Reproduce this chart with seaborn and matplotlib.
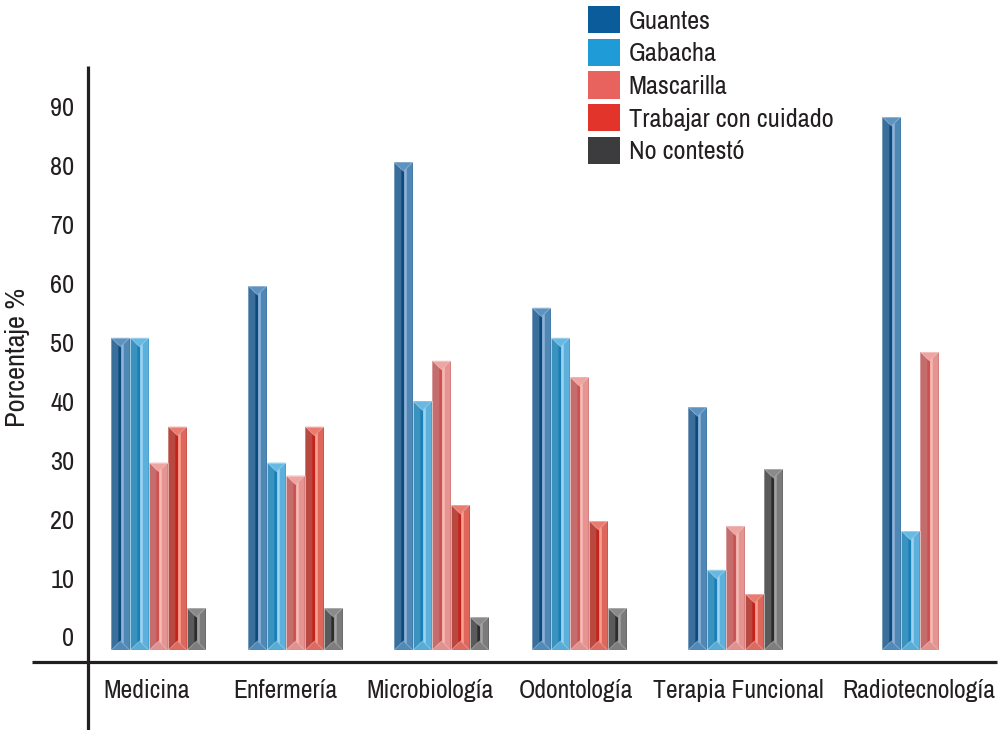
import numpy as np
import pandas as pd
import matplotlib
matplotlib.use("Agg")
import matplotlib.pyplot as plt
import seaborn as sns
from matplotlib.patches import Polygon, Patch

# ---- data -------------------------------------------------------------
carreras = ["Medicina", "Enfermería", "Microbiología", "Odontología",
            "Terapia Funcional", "Radiotecnología"]
medidas = ["Guantes", "Gabacha", "Mascarilla", "Trabajar con cuidado", "No contestó"]

guantes = [50.8, 59.6, 80.6, 55.9, 39.0, 88.3]
gabacha = [50.8, 29.6, 40.0, 50.8, 11.4, 18.0]
mascarilla = [29.6, 27.4, 46.9, 44.1, 18.8, 48.4]
trabajar = [35.7, 35.7, 22.4, 19.7, 7.3, np.nan]
no_contesto = [4.9, 4.9, 3.4, 4.9, 28.5, np.nan]

y_ticks = [0, 10, 20, 30, 40, 50, 60, 70, 80, 90]

# ---- layout / style ---------------------------------------------------
group_x = [158.5, 295.5, 441.5, 579.5, 735.5, 929.5]   # group centres on the x scale
label_x = [147, 285, 430, 576, 738, 919]               # category label centres
group_span = 95.0                                       # width taken by one group
plinth = -2.2                                           # bars stand slightly below zero

legend_colors = ["#0b5c9a", "#1f9cd8", "#e8625e", "#e2342b", "#3c3c3e"]
# per series: left bevel, right bevel, top, bottom, dark ridge, light ridge
shades = {
    "Guantes":              ["#3a6f9c", "#5088b5", "#5d93c0", "#4f8ab8", "#0c4a7e", "#8fb2d8"],
    "Gabacha":              ["#3a92bf", "#5cb1dc", "#66b9e2", "#58acd6", "#1a7fb7", "#9dd3f0"],
    "Mascarilla":           ["#c46d6c", "#e59491", "#eea4a0", "#e09290", "#cc5150", "#f6bab5"],
    "Trabajar con cuidado": ["#b84840", "#df665b", "#ea7b70", "#dc6c62", "#c6221a", "#f7a293"],
    "No contestó":          ["#5a5a5a", "#7b7b7b", "#8a8a8a", "#7e7e7e", "#2c2c2c", "#a2a2a2"],
}
line_color = "#231f20"

W, H, DPI = 1007, 730, 100
ax_left, ax_right, ax_top, ax_bottom = 87.5, 997.0, 66.0, 661.5   # pixels
y_zero_px, px_per_unit = 637.0, 5.889

sns.set_theme(style="white")
plt.rcParams["font.family"] = ["Nimbus Sans Narrow", "Liberation Sans Narrow",
                               "Arial Narrow", "Archivo Narrow", "Roboto Condensed",
                               "PT Sans Narrow", "Liberation Sans", "DejaVu Sans"]
plt.rcParams["text.color"] = line_color

fig = plt.figure(figsize=(W / DPI, H / DPI), dpi=DPI)
ax = fig.add_axes([ax_left / W, 1 - ax_bottom / H,
                   (ax_right - ax_left) / W, (ax_bottom - ax_top) / H])

# ---- long table ---------------------------------------------------------
series = [guantes, gabacha, mascarilla, trabajar, no_contesto]
rows = []
for m, vals in zip(medidas, series):
    for c, gx, v in zip(carreras, group_x, vals):
        if not np.isnan(v):
            rows.append({"carrera": c, "pos": gx, "medida": m, "valor": v})
df = pd.DataFrame(rows)

palette = {m: shades[m][0] for m in medidas}
min_step = np.min(np.diff(group_x))
sns.barplot(data=df, x="pos", y="valor", hue="medida", hue_order=medidas,
            palette=palette, native_scale=True, width=group_span / min_step,
            gap=0.05, errorbar=None, saturation=1, linewidth=0,
            legend=False, ax=ax)

ax.set_xlim(ax_left, ax_right)
ax.set_ylim((y_zero_px - ax_bottom) / px_per_unit, (y_zero_px - ax_top) / px_per_unit)

# ---- bevelled bars --------------------------------------------------------
fig.canvas.draw()
t0 = ax.transData.transform((0, 0))
sx = ax.transData.transform((1, 0))[0] - t0[0]
sy = ax.transData.transform((0, 1))[1] - t0[1]

color_to_series = {matplotlib.colors.to_hex(palette[m]): m for m in medidas}

for p in list(ax.patches):
    h = p.get_height()
    if not np.isfinite(h) or h == 0:
        continue
    m = color_to_series.get(matplotlib.colors.to_hex(p.get_facecolor()))
    if m is None:
        continue
    left, right_c, top_c, bot_c, dark, light = shades[m]
    x0 = p.get_x()
    w = p.get_width()
    x1 = x0 + w
    y1 = p.get_y() + h
    y0 = plinth
    p.set_y(y0)
    p.set_height(y1 - y0)
    xc = x0 + 0.5 * w
    bx = 0.5 * w
    by = bx * sx / sy
    z = p.get_zorder()
    polys = [
        ([(x0, y0), (xc, y0 + by), (xc, y1 - by), (x0, y1)], left),
        ([(x1, y0), (xc, y0 + by), (xc, y1 - by), (x1, y1)], right_c),
        ([(x0, y1), (x1, y1), (xc, y1 - by)], top_c),
        ([(x0, y0), (x1, y0), (xc, y0 + by)], bot_c),
        ([(x0 + 0.38 * w, y0 + by * 0.8), (xc + 0.04 * w, y0 + by),
          (xc + 0.04 * w, y1 - by), (x0 + 0.38 * w, y1 - by * 0.8)], dark),
        ([(xc + 0.04 * w, y0 + by), (x0 + 0.68 * w, y0 + by * 0.7),
          (x0 + 0.68 * w, y1 - by * 0.7), (xc + 0.04 * w, y1 - by)], light),
    ]
    for pts, col in polys:
        ax.add_patch(Polygon(pts, closed=True, facecolor=col, edgecolor="none",
                             zorder=z + 0.1))
    # light rim and bevel seams
    ax.plot([x0, xc, x1], [y1, y1 - by, y1], color="white", alpha=0.35, lw=0.6,
            zorder=z + 0.2)
    ax.plot([x0, xc, x1], [y0, y0 + by, y0], color="white", alpha=0.35, lw=0.6,
            zorder=z + 0.2)
    ax.add_patch(plt.Rectangle((x0, y0), w, y1 - y0, fill=False,
                               edgecolor="white", alpha=0.45, lw=0.5,
                               zorder=z + 0.3))

# ---- axes lines -----------------------------------------------------------
for s in ax.spines.values():
    s.set_visible(False)
ax.plot([(32 - ax_left) / (ax_right - ax_left), 1.0], [0, 0], transform=ax.transAxes,
        color=line_color, lw=2.3, clip_on=False, solid_capstyle="butt")
ax.plot([0, 0], [(ax_bottom - H) / (ax_bottom - ax_top), 1.0], transform=ax.transAxes,
        color=line_color, lw=2.3, clip_on=False, solid_capstyle="butt")

# ---- ticks and labels -------------------------------------------------------
ax.set_yticks(y_ticks)
ax.set_yticklabels([str(v) for v in y_ticks])
ax.set_xticks(label_x)
ax.set_xticklabels(carreras)
ax.tick_params(axis="y", length=0, pad=9.5, labelsize=19, labelcolor=line_color)
ax.tick_params(axis="x", length=0, pad=12.5, labelsize=18.5, labelcolor=line_color)
ax.grid(False)
ax.set_xlabel("")
ax.set_ylabel("Porcentaje %", fontsize=20.5, color=line_color)
ax.yaxis.set_label_coords((18 - ax_left) / (ax_right - ax_left),
                          (ax_bottom - 357) / (ax_bottom - ax_top))
ax.yaxis.label.set_verticalalignment("center")

# ---- legend -----------------------------------------------------------------
handles = [Patch(facecolor=c, edgecolor="none", label=m)
           for m, c in zip(medidas, legend_colors)]
fig.legend(handles=handles, loc="upper left", bbox_to_anchor=(588 / W, 1 - 6 / H),
           frameon=False, fontsize=19, handlelength=1.22, handleheight=1.22,
           handletextpad=0.32, labelspacing=0.2, borderpad=0, borderaxespad=0)

fig.savefig("out.png", dpi=DPI)
